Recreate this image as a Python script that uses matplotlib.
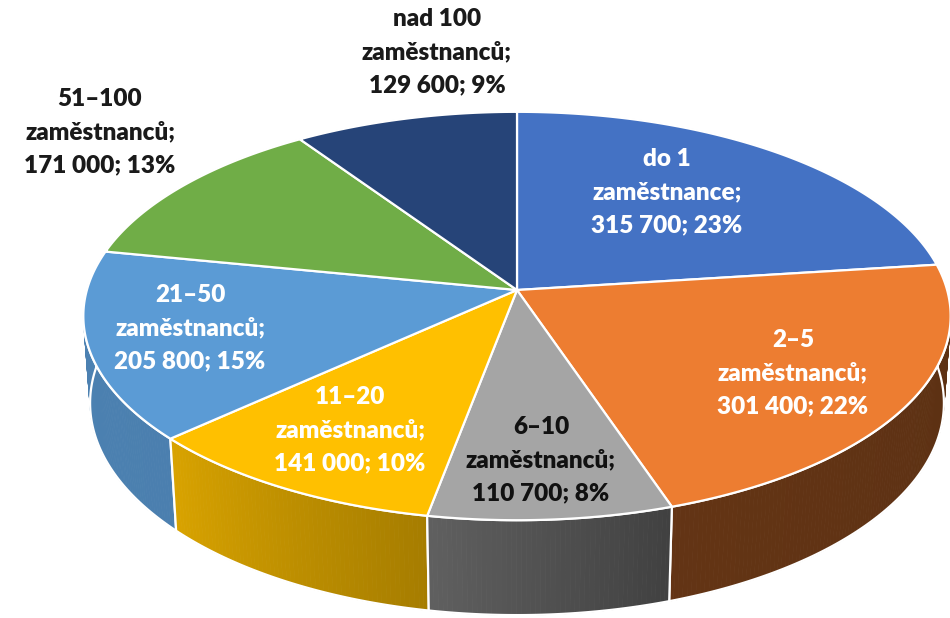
import numpy as np
import matplotlib
matplotlib.use("Agg")
import matplotlib.pyplot as plt
from matplotlib.patches import Polygon
from matplotlib.colors import to_rgb

# ---- data ----
categories = ["do 1", "2–5", "6–10", "11–20", "21–50", "51–100", "nad 100"]
unit_words = ["zaměstnance", "zaměstnanců", "zaměstnanců", "zaměstnanců",
              "zaměstnanců", "zaměstnanců", "zaměstnanců"]
values = [315700, 301400, 110700, 141000, 205800, 171000, 129600]
pct_labels = ["23%", "22%", "8%", "10%", "15%", "13%", "9%"]

# ---- style ----
colors = ["#4472C4", "#ED7D31", "#A5A5A5", "#FFC000", "#5B9BD5", "#70AD47", "#264478"]
# side shading factors (right end, left end)
side_shade = [(0.5, 0.5), (0.38, 0.42), (0.39, 0.58), (0.65, 0.85),
              (0.82, 0.84), (0.7, 0.7), (0.6, 0.6)]
text_colors = ["white", "white", "#111111", "white", "white", "#1a1a1a", "#1a1a1a"]
label_pos = [(667, 192), (793, 373), (541, 460), (350, 430), (190, 328),
             (100, 132), (437, 52)]
line_gap = 33
font = ["Lato", "DejaVu Sans"]
fsize = 17.5

# ---- projection ----
cx, cy = 517, 290
sphi = 0.467
cphi = np.sqrt(1 - sphi ** 2)
D = 6.94
F = 2985.0
H = 0.231


def proj(t, r=1.0, y=0.0):
    X = r * np.sin(t)
    Z = r * np.cos(t)
    yc = y * cphi + Z * sphi
    zc = D + Z * cphi - y * sphi
    return cx + F * X / zc, cy - F * yc / zc


fig = plt.figure(figsize=(9.5, 6.18), dpi=100)
ax = fig.add_axes([0, 0, 1, 1])
ax.set_xlim(0, 950)
ax.set_ylim(618, 0)
ax.axis("off")

vals = np.array(values, dtype=float)
cum = np.concatenate([[0], np.cumsum(vals)]) / vals.sum() * 2 * np.pi
edges = list(zip(cum[:-1], cum[1:]))

# rim (side walls), draw back to front
order = sorted(range(len(values)), key=lambda i: np.cos((edges[i][0] + edges[i][1]) / 2), reverse=True)
for i in order:
    t0, t1 = edges[i]
    base = np.array(to_rgb(colors[i]))
    n = max(int((t1 - t0) / 0.01), 4)
    ts = np.linspace(t0, t1, n + 1)
    fr, fl = side_shade[i]
    for k in range(n):
        a, b = ts[k], ts[k + 1]
        frac = (0.5 * (a + b) - t0) / (t1 - t0)
        col = np.clip(base * (fr + (fl - fr) * frac), 0, 1)
        xa, ya = proj(a)
        xb, yb = proj(b)
        xa2, ya2 = proj(a, y=-H)
        xb2, yb2 = proj(b, y=-H)
        ax.add_patch(Polygon([(xa, ya), (xb, yb), (xb2, yb2), (xa2, ya2)],
                             closed=True, facecolor=col, edgecolor=col, lw=0.6))
    # outline
    xs_t, ys_t = proj(ts)
    xs_b, ys_b = proj(ts, y=-H)
    ax.add_patch(Polygon(list(zip(xs_t, ys_t)) + list(zip(xs_b[::-1], ys_b[::-1])),
                         closed=True, facecolor="none", edgecolor="white", lw=1.6))

# top face
for i, (t0, t1) in enumerate(edges):
    ts = np.linspace(t0, t1, 200)
    xs, ys = proj(ts)
    pts = [(cx, cy)] + list(zip(xs, ys))
    ax.add_patch(Polygon(pts, closed=True, facecolor=colors[i], edgecolor="white",
                         lw=1.6, joinstyle="round"))

# labels
for i in range(len(values)):
    x, y = label_pos[i]
    lines = [categories[i], unit_words[i] + ";",
             f"{values[i]:,}".replace(",", " ") + "; " + pct_labels[i]]
    for j, s in enumerate(lines):
        ax.text(x, y + (j - 1) * line_gap, s, ha="center", va="center",
                color=text_colors[i], fontsize=fsize, fontweight="heavy", family=font)

fig.savefig("out.png", dpi=100)
